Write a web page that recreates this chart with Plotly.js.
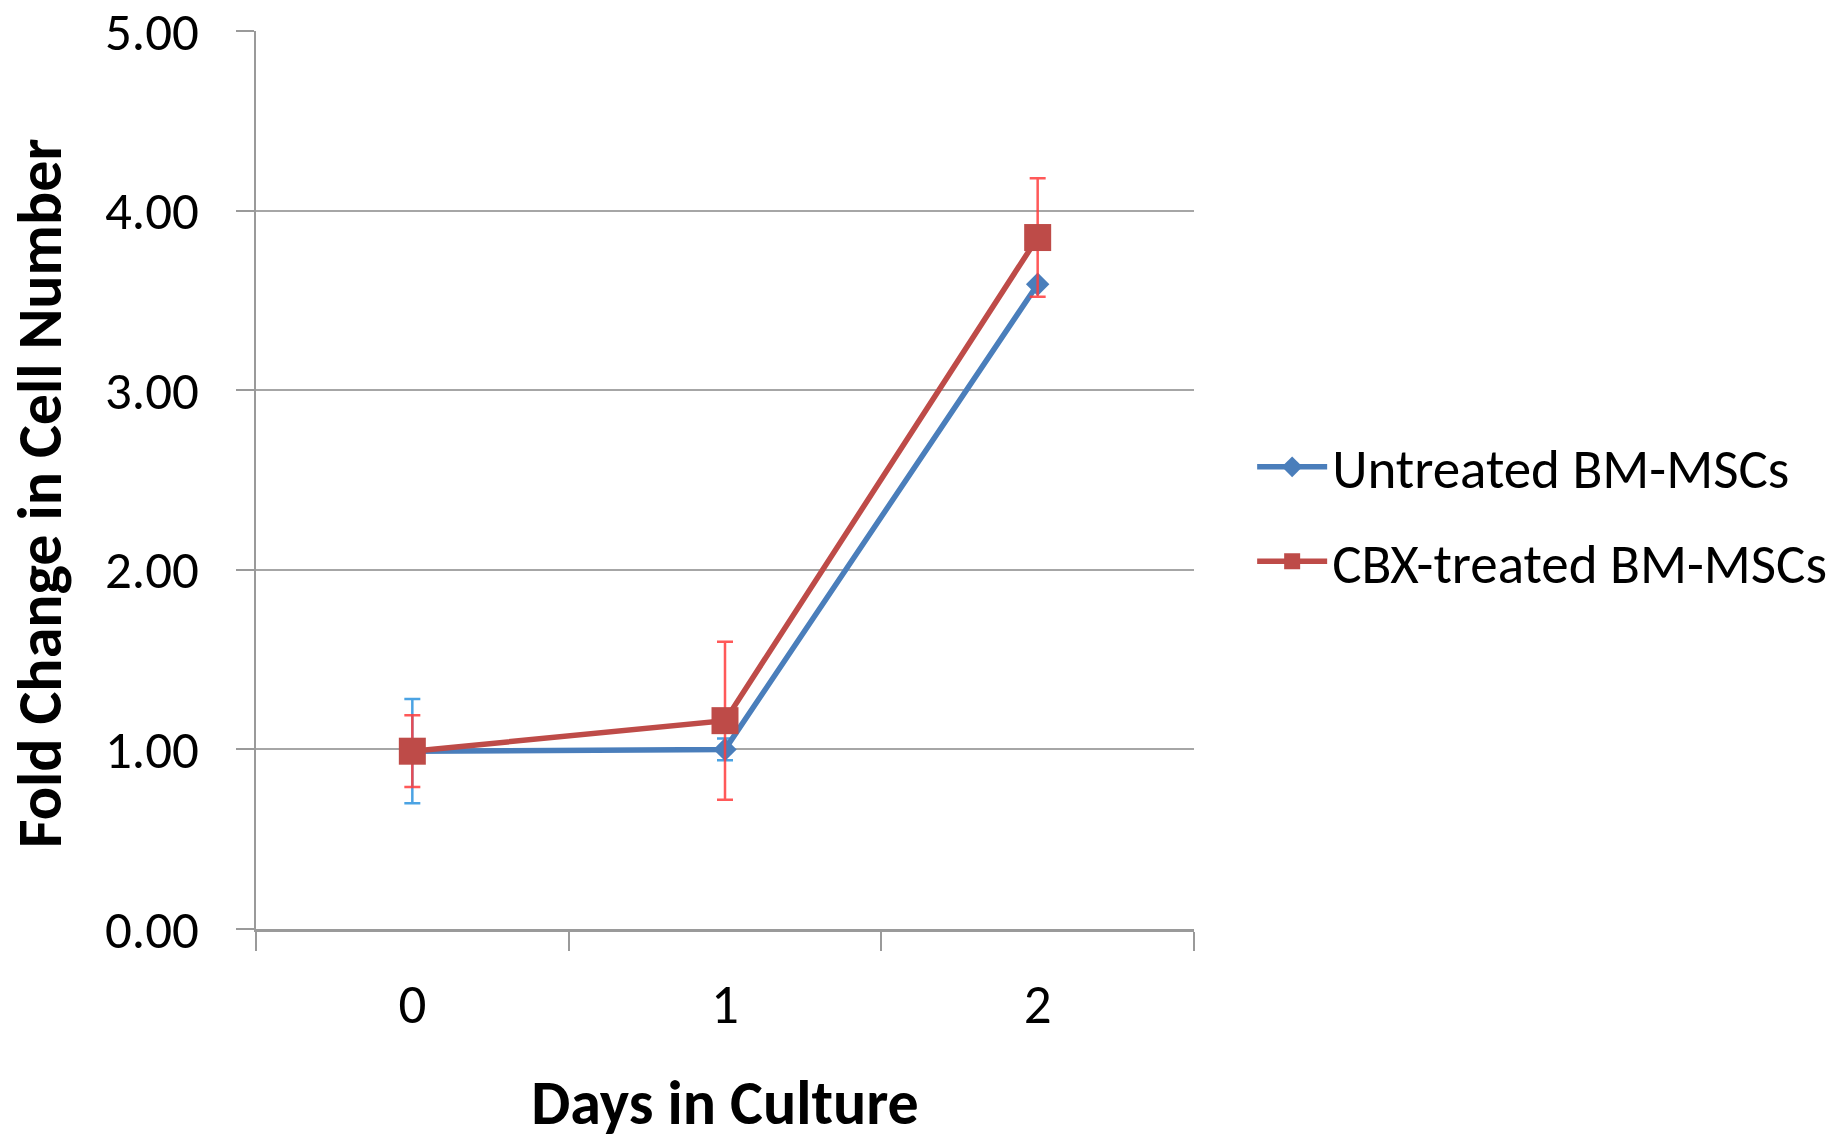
<!DOCTYPE html>
<html><head><meta charset="utf-8">
<script src="https://cdn.plot.ly/plotly-3.0.1.min.js"></script>
<style>html,body{margin:0;padding:0;background:#fff;}#chart{width:1838px;height:1148px;}</style>
</head><body><div id="chart"></div>
<script>
const days = ['0', '1', '2'];
const untreated = [0.99, 1.00, 3.59];
const untreatedErrPlus = [0.29, 0.06, 0.0];
const untreatedErrMinus = [0.29, 0.06, 0.0];
const cbx = [0.99, 1.16, 3.85];
const cbxErrPlus = [0.20, 0.44, 0.33];
const cbxErrMinus = [0.20, 0.44, 0.33];
const seriesNames = ['Untreated BM-MSCs', 'CBX-treated BM-MSCs'];
const yTicks = [0, 1, 2, 3, 4, 5];
const xTitle = 'Days in Culture';
const yTitle = 'Fold Change in Cell Number';

const FONT = "Carlito, Calibri, 'Open Sans', sans-serif";

const traces = [
  {
    x: days, y: untreated, name: seriesNames[0], legendgroup: 'a',
    type: 'scatter', mode: 'lines+markers',
    line: {color: '#4A7EBB', width: 5.5},
    marker: {symbol: 'diamond', size: 18, color: '#4A7EBB'},
    error_y: {type: 'data', symmetric: false, array: untreatedErrPlus, arrayminus: untreatedErrMinus,
              color: '#4BA3E3', thickness: 2.5, width: 8}
  },
  {
    x: days, y: cbx, name: seriesNames[1], legendgroup: 'b',
    type: 'scatter', mode: 'lines+markers',
    line: {color: '#BE4B48', width: 5.5},
    marker: {symbol: 'square', size: 27, color: '#BE4B48'},
    error_y: {type: 'data', symmetric: false, array: cbxErrPlus, arrayminus: cbxErrMinus,
              color: 'rgba(255,60,60,0.85)', thickness: 2.5, width: 8}
  }
];

const layout = {
  width: 1838, height: 1148,
  paper_bgcolor: '#ffffff', plot_bgcolor: '#ffffff',
  margin: {l: 256, r: 644, t: 31, b: 219, autoexpand: false},
  font: {family: FONT, color: '#000000', size: 50},
  showlegend: true,
  legend: {x: 1.062, xanchor: 'left', y: 0.462, yanchor: 'middle',
           font: {family: FONT, size: 55, color: '#000'},
           itemwidth: 70,
           tracegroupgap: 20, bgcolor: 'rgba(0,0,0,0)'},
  xaxis: {
    type: 'category', range: [-0.5, 2.5], automargin: false,
    tickson: 'boundaries', ticks: 'outside', ticklen: 19, tickwidth: 2, tickcolor: '#9a9a9a',
    showline: true, linecolor: '#9a9a9a', linewidth: 2.5,
    showgrid: false, zeroline: false,
    tickfont: {family: FONT, size: 55, color: '#000'},
    ticklabelstandoff: 25,
    title: {text: '<b>' + xTitle + '</b>', font: {family: FONT, size: 62, color: '#000'}, standoff: 44}
  },
  yaxis: {
    range: [0, 5], tickvals: yTicks, tickformat: '.2f', automargin: false,
    ticklabeloverflow: 'allow',
    ticks: 'outside', ticklen: 18, tickwidth: 2, tickcolor: '#9a9a9a',
    showline: true, linecolor: '#9a9a9a', linewidth: 2.5,
    showgrid: true, gridcolor: '#a6a6a6', gridwidth: 2, zeroline: false,
    tickfont: {family: FONT, size: 53, color: '#000'},
    ticklabelstandoff: 26
  },
  annotations: [{
    text: '<b>' + yTitle + '</b>', textangle: -90, showarrow: false,
    xref: 'paper', yref: 'paper', x: -0.2303, y: 0.4855, xanchor: 'center', yanchor: 'middle',
    font: {family: FONT, size: 62, color: '#000'}
  }]
};

Plotly.newPlot('chart', traces, layout, {staticPlot: true, displayModeBar: false});
</script></body></html>
